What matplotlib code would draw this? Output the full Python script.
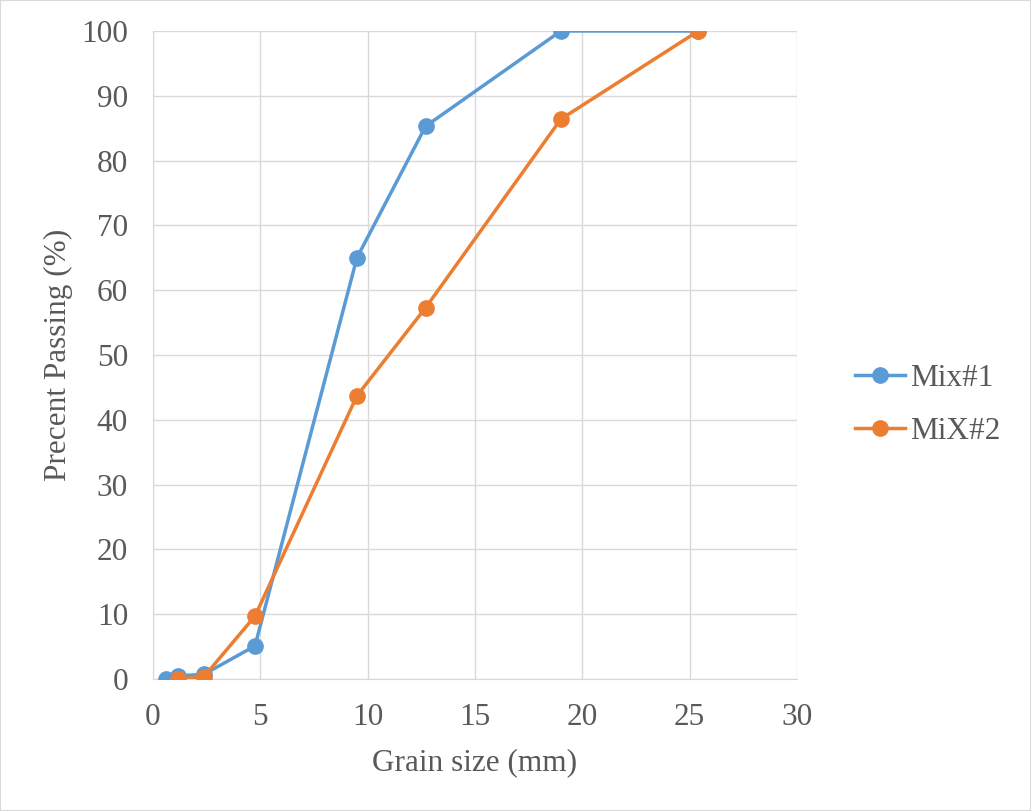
import matplotlib
matplotlib.use("Agg")
import matplotlib.pyplot as plt

plt.rcParams['font.family'] = ['Liberation Serif', 'DejaVu Serif']

mix1_x = [0.6, 1.18, 2.36, 4.75, 9.5, 12.7, 19.0, 25.4]
mix1_y = [0.0, 0.5, 0.7, 5.1, 65.0, 85.3, 100.0, 100.0]
mix2_x = [1.18, 2.36, 4.75, 9.5, 12.7, 19.0, 25.4]
mix2_y = [0.0, 0.3, 9.7, 43.7, 57.3, 86.4, 100.0]
labels = ["Mix#1", "MiX#2"]
colors = ["#5b9bd5", "#ed7d31"]

fig = plt.figure(figsize=(10.31, 8.11), dpi=100)
ax = fig.add_axes([153/1031, 1-679/811, (797-153)/1031, (679-31)/811])

ax.plot(mix1_x, mix1_y, color=colors[0], lw=2.5, marker='o', ms=11, label=labels[0], zorder=3)
ax.plot(mix2_x, mix2_y, color=colors[1], lw=2.5, marker='o', ms=11, label=labels[1], zorder=4)

ax.set_xlim(0, 30)
ax.set_ylim(0, 100)
ax.set_xticks(range(0, 31, 5))
ax.set_yticks(range(0, 101, 10))
ax.grid(True, color='#d9d9d9', lw=1)
ax.set_axisbelow(True)
for s in ['top', 'right']:
    ax.spines[s].set_visible(False)
for s in ['left', 'bottom']:
    ax.spines[s].set_color('#d9d9d9')
ax.tick_params(length=0, labelsize=22.5, colors='#595959')
ax.tick_params(axis='x', pad=17)
ax.tick_params(axis='y', pad=18)
ax.set_xlabel("Grain size (mm)", fontsize=22.5, color='#595959', labelpad=12)
ax.set_ylabel("Precent Passing (%)", fontsize=22.5, color='#595959', labelpad=6)

fig.legend(loc='center left', bbox_to_anchor=(855/1031, 1-405/811), frameon=False,
           fontsize=22.5, labelcolor='#595959', handlelength=1.6, handletextpad=0.15,
           labelspacing=0.75, borderpad=0, borderaxespad=0)

fig.patches.append(plt.Rectangle((0, 0), 1, 1, transform=fig.transFigure,
                                 fill=False, edgecolor='#d9d9d9', lw=1.5))
fig.savefig("out.png", dpi=100)
